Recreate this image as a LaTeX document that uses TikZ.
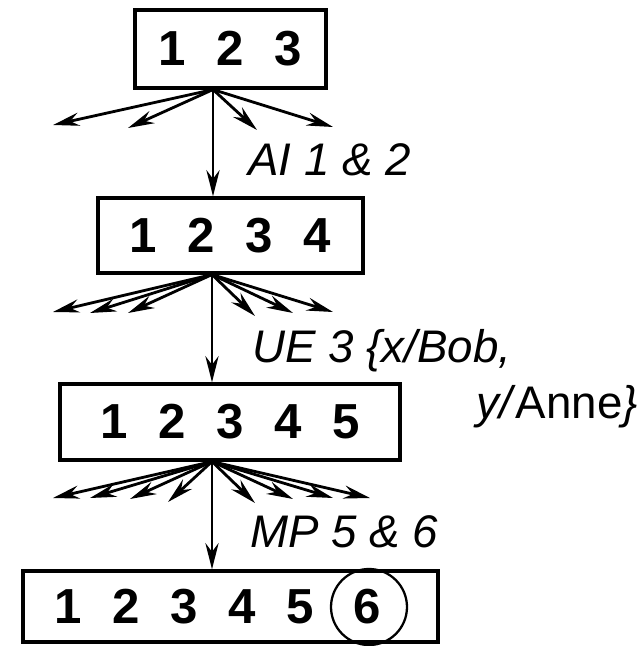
\documentclass[tikz,border=0pt]{standalone}
\usepackage{fontspec}
\setmainfont{Liberation Sans}
\usetikzlibrary{arrows.meta}
\newcommand{\dg}[1]{\makebox[1.16cm]{#1}}

\begin{document}
\begin{tikzpicture}[x=0.02cm, y=-0.02cm,
	box/.style={draw, line width=1.8pt, inner sep=0pt, font=\fontsize{28}{30}\selectfont\bfseries},
	rule/.style={font=\fontsize{26}{30}\selectfont\itshape, inner sep=0pt, anchor=base west},
	tip/.style={-{Stealth[length=15pt, width=7.5pt, inset=5pt]}, line width=1.6pt}]
	\useasboundingbox (0,0) rectangle (644,646);
	\node[box, minimum width=3.82cm, minimum height=1.56cm] (s1) at (230.5,49) {\dg1\dg2\dg3};
	\node[box, minimum width=5.3cm, minimum height=1.5cm] (s2) at (230.5,235.5) {\dg1\dg2\dg3\dg4};
	\node[box, minimum width=6.8cm, minimum height=1.52cm] (s3) at (230,422) {\dg1\dg2\dg3\dg4\dg5};
	\node[box, minimum width=8.3cm, minimum height=1.42cm] (s4) at (230.5,606.5) {\dg1\dg2\dg3\dg4\dg5\hspace{0.18cm}\dg6\hspace{0.5cm}\null};
	\node[draw, circle, line width=1.3pt, minimum size=1.52cm, inner sep=0pt] (c6) at (369,607) {};
	% roots of the fans
	\coordinate (r1) at (s1.south -| 213,0);
	\coordinate (r2) at (s2.south -| 212,0);
	\coordinate (r3) at (s3.south -| 212,0);
	\foreach \x/\y in {53/125, 128/128, 257/130, 333/127}
		\draw[tip] (r1) -- (\x,\y);
	\foreach \x/\y in {53/312, 90/313, 128/313, 255/316, 293/313, 333/312}
		\draw[tip] (r2) -- (\x,\y);
	\foreach \x/\y in {53/498, 90/498, 130/499, 168/502, 255/503, 293/499, 333/498, 370/498}
		\draw[tip] (r3) -- (\x,\y);
	\draw[tip] (r1) -- (r1 |- s2.north);
	\draw[tip] (r2) -- (r2 |- s3.north);
	\draw[tip] (r3) -- (r3 |- s4.north);
	\node[rule] (ai) at (248,175) {AI 1 \& 2};
	\node[rule] (ue) at (252,362) {UE 3 \{x/Bob,};
	\node[rule] (ue2) at (476,418) {y/\textup{Anne}\}};
	\node[rule] (mp) at (250,547) {MP 5 \& 6};
\end{tikzpicture}
\end{document}
